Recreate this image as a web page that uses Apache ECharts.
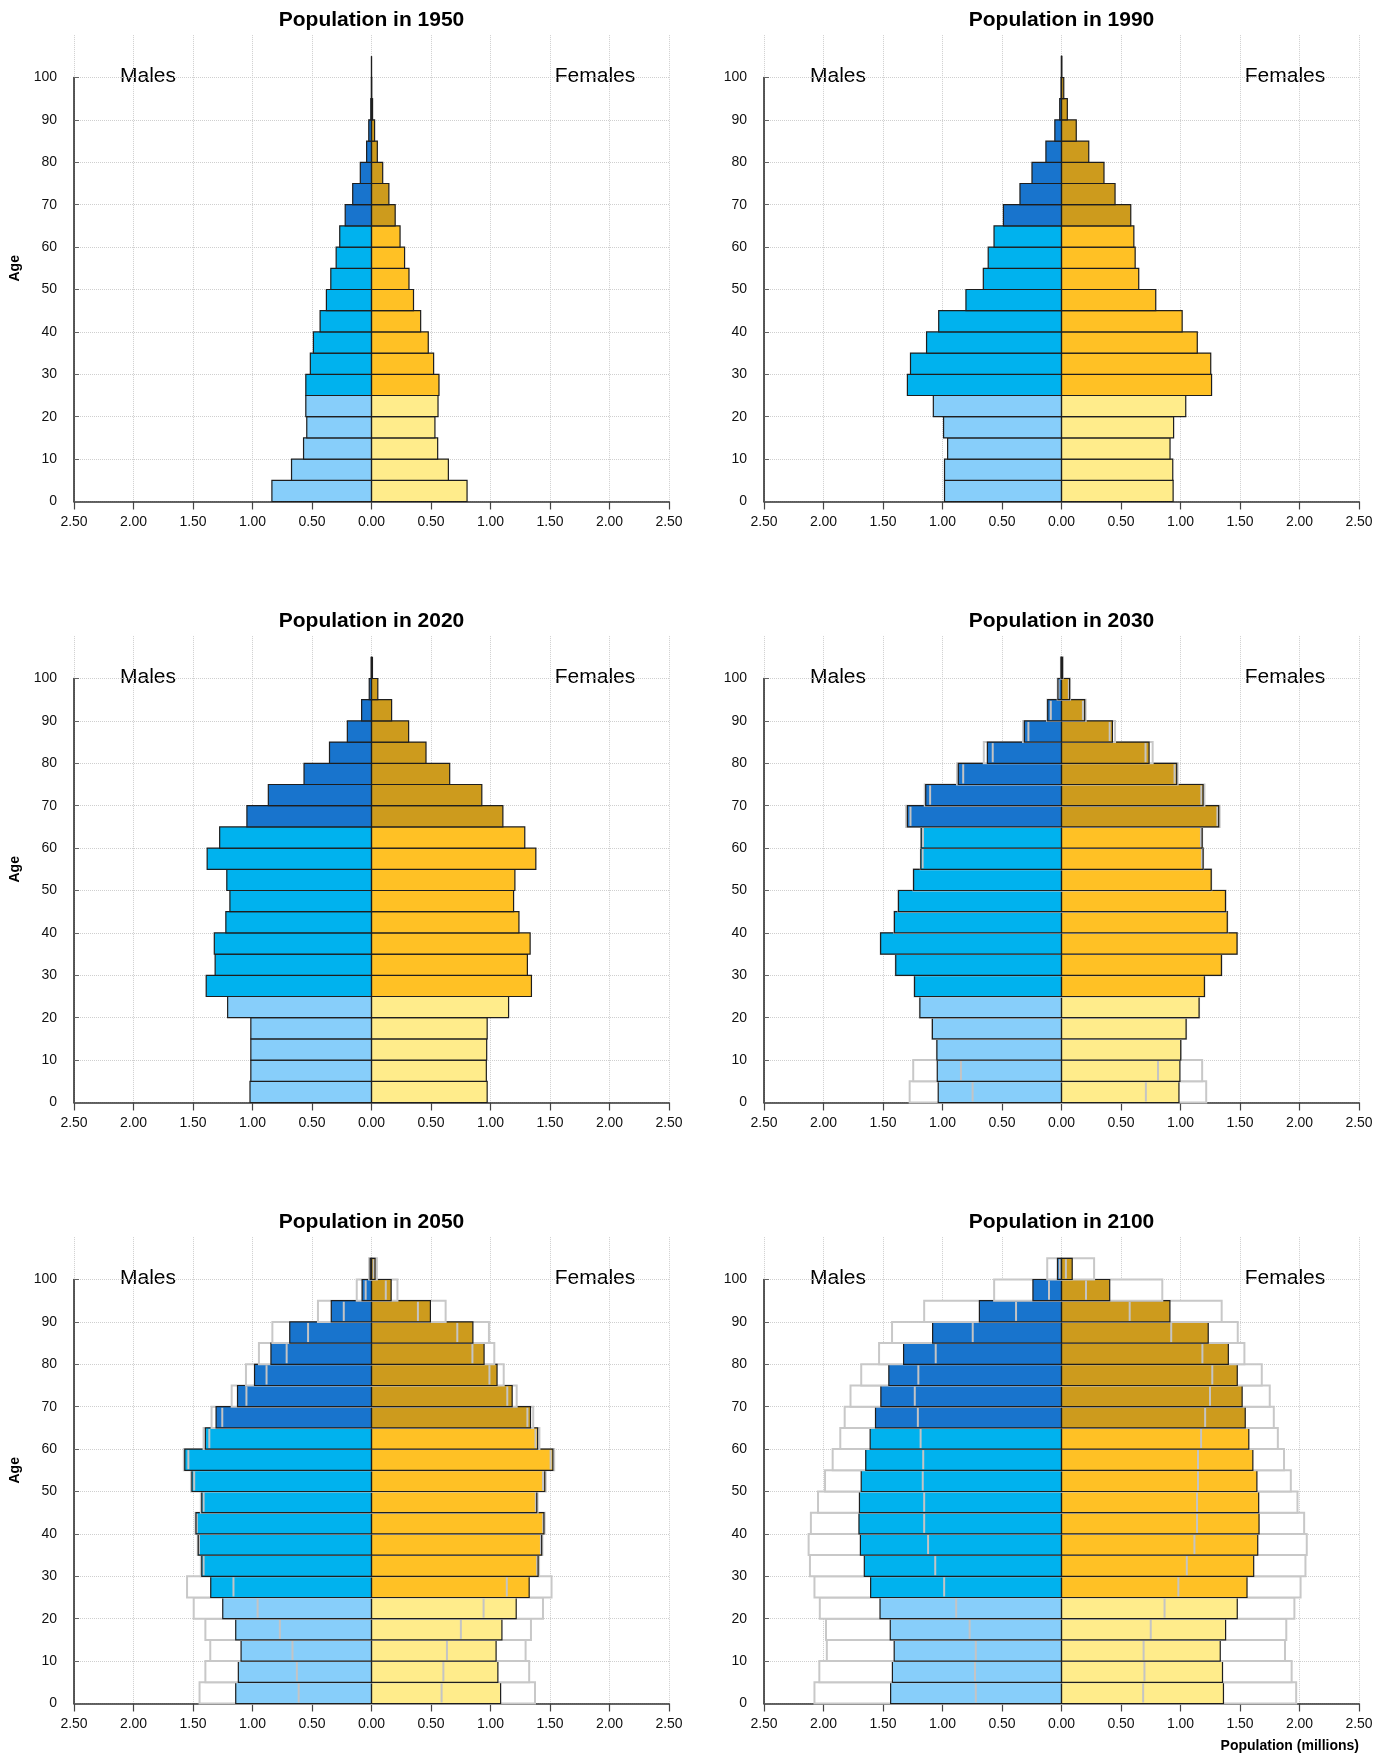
<!DOCTYPE html>
<html>
<head>
<meta charset="utf-8">
<script src="https://cdn.jsdelivr.net/npm/echarts@6.0.0/dist/echarts.min.js"></script>
<style>
html,body{margin:0;padding:0;background:#fff;}
#chart{width:1390px;height:1754px;}
</style>
</head>
<body>
<div id="chart"></div>
<script>
// ---------- DATA ----------
const ageGroups = [0,5,10,15,20,25,30,35,40,45,50,55,60,65,70,75,80,85,90,95,100];
const yTicks = [0,10,20,30,40,50,60,70,80,90,100];
const xTicks = [-2.5,-2,-1.5,-1,-0.5,0,0.5,1,1.5,2,2.5];
const years = [1950, 1990, 2020, 2030, 2050, 2100];

const male1950   = [0.837,0.672,0.571,0.544,0.552,0.552,0.514,0.488,0.432,0.379,0.342,0.297,0.267,0.221,0.158,0.094,0.041,0.023,0.006,0.001,0.000];
const female1950 = [0.803,0.646,0.556,0.533,0.559,0.567,0.522,0.477,0.413,0.353,0.315,0.278,0.240,0.199,0.146,0.094,0.049,0.026,0.009,0.002,0.000];

const male1990   = [0.983,0.983,0.957,0.991,1.077,1.295,1.269,1.134,1.032,0.803,0.657,0.616,0.567,0.488,0.349,0.248,0.131,0.056,0.015,0.004,0.001];
const female1990 = [0.938,0.935,0.912,0.942,1.044,1.261,1.254,1.141,1.014,0.792,0.649,0.619,0.608,0.582,0.450,0.357,0.229,0.124,0.049,0.019,0.003];

const male2020   = [1.021,1.014,1.014,1.014,1.209,1.389,1.314,1.321,1.224,1.190,1.216,1.381,1.276,1.047,0.867,0.567,0.353,0.203,0.083,0.019,0.003];
const female2020 = [0.972,0.965,0.968,0.972,1.152,1.344,1.310,1.333,1.239,1.194,1.205,1.381,1.288,1.104,0.927,0.657,0.458,0.312,0.169,0.053,0.008];

const male2030       = [1.036,1.044,1.047,1.085,1.190,1.235,1.393,1.520,1.404,1.370,1.243,1.182,1.179,1.295,1.141,0.867,0.623,0.312,0.116,0.030,0.004];
const female2030     = [0.987,0.995,1.002,1.047,1.156,1.201,1.344,1.475,1.393,1.378,1.258,1.190,1.182,1.321,1.190,0.968,0.736,0.428,0.195,0.068,0.009];
const maleHigh2030   = [1.276,1.246,1.047,1.085,1.190,1.235,1.393,1.520,1.404,1.370,1.243,1.182,1.179,1.306,1.149,0.878,0.653,0.323,0.120,0.032,0.005];
const maleLow2030    = [0.747,0.845,1.047,1.085,1.190,1.235,1.393,1.520,1.404,1.370,1.243,1.167,1.164,1.269,1.104,0.826,0.578,0.278,0.090,0.025,0.003];
const femaleHigh2030 = [1.216,1.182,1.002,1.047,1.156,1.201,1.344,1.475,1.393,1.378,1.258,1.190,1.182,1.329,1.201,0.976,0.766,0.450,0.203,0.072,0.010];
const femaleLow2030  = [0.709,0.811,1.002,1.047,1.156,1.201,1.344,1.475,1.393,1.378,1.258,1.180,1.172,1.310,1.175,0.950,0.706,0.405,0.180,0.062,0.008];

const male2050       = [1.141,1.119,1.096,1.141,1.250,1.351,1.426,1.456,1.475,1.426,1.509,1.569,1.396,1.306,1.126,0.983,0.845,0.687,0.338,0.079,0.011];
const female2050     = [1.085,1.062,1.047,1.096,1.216,1.325,1.400,1.430,1.449,1.389,1.456,1.524,1.396,1.336,1.182,1.055,0.946,0.852,0.495,0.165,0.030];
const maleHigh2050   = [1.445,1.396,1.355,1.396,1.494,1.550,1.434,1.460,1.479,1.434,1.517,1.577,1.411,1.344,1.175,1.055,0.946,0.833,0.450,0.124,0.020];
const maleLow2050    = [0.612,0.627,0.664,0.770,0.957,1.160,1.411,1.450,1.468,1.411,1.490,1.539,1.363,1.254,1.051,0.882,0.713,0.533,0.233,0.049,0.006];
const femaleHigh2050 = [1.374,1.325,1.295,1.340,1.441,1.513,1.408,1.436,1.455,1.396,1.464,1.535,1.411,1.359,1.220,1.111,1.032,0.987,0.623,0.218,0.045];
const femaleLow2050  = [0.589,0.604,0.634,0.751,0.942,1.137,1.392,1.424,1.443,1.381,1.441,1.505,1.378,1.310,1.141,0.991,0.848,0.721,0.390,0.120,0.018];

const male2100       = [1.436,1.421,1.406,1.439,1.525,1.604,1.657,1.690,1.702,1.698,1.683,1.645,1.608,1.563,1.518,1.451,1.327,1.083,0.690,0.240,0.034];
const female2100     = [1.361,1.353,1.334,1.379,1.477,1.559,1.615,1.649,1.660,1.657,1.642,1.608,1.574,1.544,1.518,1.477,1.402,1.233,0.911,0.405,0.090];
const maleHigh2100   = [2.076,2.035,1.972,1.979,2.031,2.076,2.114,2.125,2.106,2.046,1.987,1.923,1.859,1.822,1.773,1.683,1.533,1.424,1.154,0.566,0.120];
const maleLow2100    = [0.720,0.727,0.720,0.772,0.885,0.986,1.061,1.121,1.154,1.154,1.166,1.162,1.184,1.207,1.233,1.203,1.057,0.746,0.382,0.105,0.015];
const femaleHigh2100 = [1.972,1.934,1.878,1.889,1.957,2.009,2.050,2.061,2.039,1.983,1.927,1.870,1.818,1.784,1.750,1.683,1.537,1.481,1.346,0.847,0.274];
const femaleLow2100  = [0.686,0.697,0.690,0.750,0.866,0.982,1.053,1.117,1.139,1.139,1.147,1.147,1.173,1.207,1.248,1.267,1.184,0.922,0.573,0.206,0.037];

const panels = [
  {year: 1950, male: male1950, female: female1950},
  {year: 1990, male: male1990, female: female1990},
  {year: 2020, male: male2020, female: female2020},
  {year: 2030, male: male2030, female: female2030, mh: maleHigh2030, ml: maleLow2030, fh: femaleHigh2030, fl: femaleLow2030},
  {year: 2050, male: male2050, female: female2050, mh: maleHigh2050, ml: maleLow2050, fh: femaleHigh2050, fl: femaleLow2050},
  {year: 2100, male: male2100, female: female2100, mh: maleHigh2100, ml: maleLow2100, fh: femaleHigh2100, fl: femaleLow2100}
];

// ---------- STYLE / LAYOUT ----------
const FONT = '"Liberation Sans", Arial, Helvetica, sans-serif';
const colLeft = [74, 764];
const plotW = 595;
const axisYs = [501.5, 1102.5, 1703.5];
const H110 = 466.4, H100 = 424;

function barColor(age, female) {
  if (age < 25) return female ? '#FFEC8B' : '#87CEFA';
  if (age < 65) return female ? '#FFC125' : '#00B2EE';
  return female ? '#CD9B1D' : '#1874CD';
}

function renderItem(params, api) {
  const age = api.value(0);
  const m = api.value(1), f = api.value(2);
  const mh = api.value(3), ml = api.value(4), fh = api.value(5), fl = api.value(6);
  const yTop = api.coord([0, age + 5])[1];
  const yBot = api.coord([0, age])[1];
  const h = yBot - yTop;
  const children = [];
  function rectBetween(a, b) {
    const xa = api.coord([a, age])[0], xb = api.coord([b, age])[0];
    return {x: Math.min(xa, xb), y: yTop, width: Math.abs(xb - xa), height: h};
  }
  const hasVar = mh > 0;
  if (hasVar) {
    children.push({type: 'rect', shape: rectBetween(-mh, 0), style: {fill: '#fff', stroke: '#c8c8c8', lineWidth: 2}});
    children.push({type: 'rect', shape: rectBetween(0, fh), style: {fill: '#fff', stroke: '#c8c8c8', lineWidth: 2}});
  }
  children.push({type: 'rect', shape: rectBetween(-m, 0), style: {fill: barColor(age, false), stroke: null}});
  children.push({type: 'rect', shape: rectBetween(0, f), style: {fill: barColor(age, true), stroke: null}});
  if (hasVar) {
    if (Math.abs(ml - m) > 0.004) {
      const xl = api.coord([-ml, age])[0];
      children.push({type: 'line', shape: {x1: xl, y1: yTop + 1, x2: xl, y2: yBot - 1}, style: {stroke: '#c4c4c4', lineWidth: 2}});
    }
    if (Math.abs(fl - f) > 0.004) {
      const xr = api.coord([fl, age])[0];
      children.push({type: 'line', shape: {x1: xr, y1: yTop + 1, x2: xr, y2: yBot - 1}, style: {stroke: '#c4c4c4', lineWidth: 2}});
    }
  }
  children.push({type: 'rect', shape: rectBetween(-m, 0), style: {fill: null, stroke: '#1e1e1e', lineWidth: 1.2}});
  children.push({type: 'rect', shape: rectBetween(0, f), style: {fill: null, stroke: '#1e1e1e', lineWidth: 1.2}});
  return {type: 'group', children: children};
}

const grid = [], xAxis = [], yAxis = [], series = [], graphic = [];

panels.forEach((p, i) => {
  const col = i % 2, row = Math.floor(i / 2);
  const left = colLeft[col];
  const axisY = axisYs[row];
  const gA = 2 * i, gB = 2 * i + 1;
  // data grid (0..110)
  grid.push({left: left, width: plotW, top: axisY - H110, height: H110, outerBoundsMode: 'none', containLabel: false});
  // display grid (0..100)
  grid.push({left: left, width: plotW, top: axisY - H100, height: H100, outerBoundsMode: 'none', containLabel: false});

  xAxis.push({
    type: 'value', gridIndex: gA, min: xTicks[0], max: xTicks[xTicks.length - 1], interval: 0.5,
    axisLine: {show: true, onZero: false, lineStyle: {color: '#333', width: 1.5}},
    axisTick: {show: true, inside: false, length: 8, lineStyle: {color: '#444', width: 1.2}},
    axisLabel: {show: true, margin: 14, fontSize: 14, color: '#111', fontFamily: FONT,
      formatter: v => Math.abs(v).toFixed(2)},
    splitLine: {show: true, lineStyle: {type: 'dotted', color: '#cfcfcf', width: 1}}
  });
  xAxis.push({type: 'value', gridIndex: gB, min: -2.5, max: 2.5, show: false});

  yAxis.push({
    type: 'value', gridIndex: gA, min: 0, max: 110, interval: 10,
    axisLine: {show: false, onZero: false}, axisTick: {show: false}, axisLabel: {show: false}, splitLine: {show: false},
    name: col === 0 ? 'Age' : '', nameLocation: 'middle', nameGap: 52, nameRotate: 90,
    nameTextStyle: {fontSize: 14, fontWeight: 'bold', color: '#000', fontFamily: FONT}
  });
  yAxis.push({
    type: 'value', gridIndex: gB, min: yTicks[0], max: yTicks[yTicks.length - 1], interval: 10,
    axisLine: {show: true, onZero: false, lineStyle: {color: '#222', width: 1.5}},
    axisTick: {show: true, inside: true, length: 5, lineStyle: {color: '#666'}},
    axisLabel: {show: true, margin: 17, fontSize: 14, color: '#111', fontFamily: FONT},
    splitLine: {show: true, lineStyle: {type: 'dotted', color: '#cfcfcf', width: 1}}
  });

  const data = ageGroups.map((a, k) => [
    a, p.male[k], p.female[k],
    p.mh ? p.mh[k] : -1, p.ml ? p.ml[k] : -1, p.fh ? p.fh[k] : -1, p.fl ? p.fl[k] : -1
  ]);
  series.push({
    type: 'custom', name: 'Population ' + p.year, xAxisIndex: gA, yAxisIndex: gA,
    renderItem: renderItem, data: data, silent: true, animation: false,
    dimensions: ['age', 'male', 'female', 'maleHigh', 'maleLow', 'femaleHigh', 'femaleLow'],
    encode: {x: 'male', y: 'age'}
  });

  graphic.push({type: 'text', x: left + plotW / 2, y: axisY - 481, silent: true,
    style: {text: 'Population in ' + p.year, fill: '#000', font: 'bold 21px ' + FONT, align: 'center', verticalAlign: 'middle'}});
  graphic.push({type: 'text', x: left + 74, y: axisY - 425, silent: true,
    style: {text: 'Males', fill: '#000', font: '21px ' + FONT, align: 'center', verticalAlign: 'middle'}});
  graphic.push({type: 'text', x: left + 521, y: axisY - 425, silent: true,
    style: {text: 'Females', fill: '#000', font: '21px ' + FONT, align: 'center', verticalAlign: 'middle'}});
});

graphic.push({type: 'text', x: colLeft[1] + plotW, y: 1746, silent: true,
  style: {text: 'Population (millions)', fill: '#000', font: 'bold 14px ' + FONT, align: 'right', verticalAlign: 'middle'}});

const chart = echarts.init(document.getElementById('chart'), null, {renderer: 'canvas'});
chart.setOption({
  animation: false,
  backgroundColor: '#fff',
  grid: grid, xAxis: xAxis, yAxis: yAxis, series: series, graphic: graphic
});
</script>
</body>
</html>
